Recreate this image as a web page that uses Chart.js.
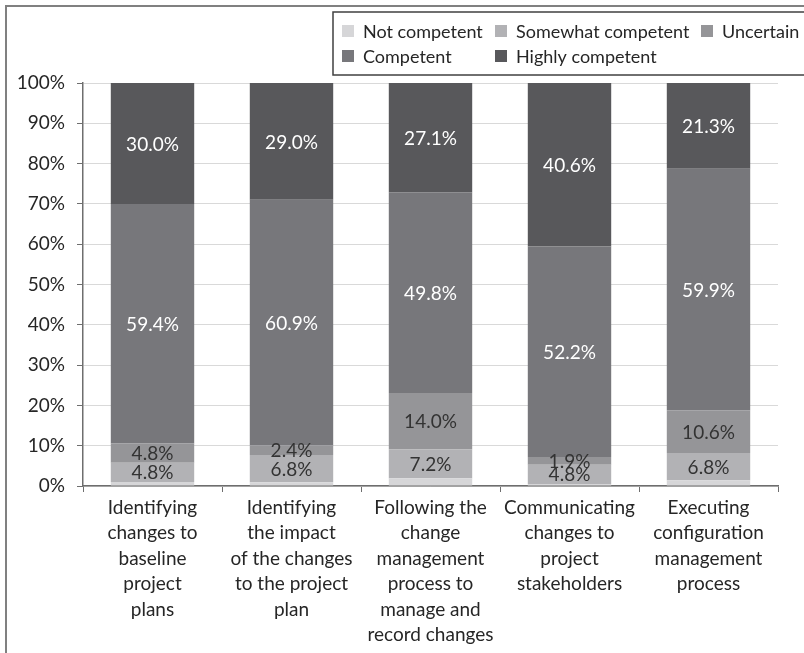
<!DOCTYPE html>
<html>
<head>
<meta charset="utf-8">
<script src="https://cdn.jsdelivr.net/npm/chart.js@4/dist/chart.umd.min.js"></script>
<style>
  html, body { margin: 0; padding: 0; background: #fff; }
  #wrap { width: 804px; height: 653px; position: relative; }
</style>
</head>
<body>
<div id="wrap"><canvas id="myChart" width="804" height="653"></canvas></div>
<script>
// Data
const categories = [
    ['Identifying', 'changes to', 'baseline', 'project', 'plans'],
    ['Identifying', 'the impact', 'of the changes', 'to the project', 'plan'],
    ['Following the', 'change', 'management', 'process to', 'manage and', 'record changes'],
    ['Communicating', 'changes to', 'project', 'stakeholders'],
    ['Executing', 'configuration', 'management', 'process']
];
const seriesNames = ['Not competent', 'Somewhat competent', 'Uncertain', 'Competent', 'Highly competent'];
const notCompetent = [1.0, 0.9, 1.9, 0.5, 1.4];
const somewhatCompetent = [4.8, 6.8, 7.2, 4.8, 6.8];
const uncertain = [4.8, 2.4, 14.0, 1.9, 10.6];
const competent = [59.4, 60.9, 49.8, 52.2, 59.9];
const highlyCompetent = [30.0, 29.0, 27.1, 40.6, 21.3];
const yTicks = [0, 10, 20, 30, 40, 50, 60, 70, 80, 90, 100];

const FONT = 'Lato, "Open Sans", sans-serif';
const colors = ['#d6d6d8', '#b2b2b5', '#959598', '#77777b', '#58585b'];
const labelColors = [null, '#333333', '#333333', '#ffffff', '#ffffff'];
const seriesValues = [notCompetent, somewhatCompetent, uncertain, competent, highlyCompetent];

// Frame around the figure and the boxed legend
const framePlugin = {
    id: 'frame',
    afterDraw(chart) {
        const ctx = chart.ctx;
        ctx.save();
        ctx.strokeStyle = '#808080';
        ctx.lineWidth = 2;
        ctx.beginPath();
        ctx.moveTo(6, 660);
        ctx.lineTo(6, 6);
        ctx.lineTo(810, 6);
        ctx.stroke();

        ctx.strokeStyle = '#404040';
        ctx.lineWidth = 1.5;
        ctx.strokeRect(333, 12, 480, 63);

        // legend entries in two rows
        const spots = [[342, 31], [495, 31], [701, 31], [342, 56], [495, 56]];
        ctx.font = '18px ' + FONT;
        ctx.textBaseline = 'middle';
        ctx.textAlign = 'left';
        chart.data.datasets.forEach((ds, i) => {
            const [x, y] = spots[i];
            ctx.fillStyle = ds.backgroundColor;
            ctx.fillRect(x, y - 6, 12, 12);
            ctx.fillStyle = '#262626';
            ctx.fillText(ds.label, x + 21, y + 1);
        });
        ctx.restore();
    }
};

// Percentage labels in the middle of each segment
const segmentLabels = {
    id: 'segmentLabels',
    afterDatasetsDraw(chart) {
        const ctx = chart.ctx;
        ctx.save();
        ctx.font = '19px ' + FONT;
        ctx.textAlign = 'center';
        ctx.textBaseline = 'middle';
        chart.data.datasets.forEach((ds, i) => {
            if (!labelColors[i]) return;
            const meta = chart.getDatasetMeta(i);
            meta.data.forEach((bar, j) => {
                const midY = (bar.y + bar.base) / 2;
                ctx.fillStyle = labelColors[i];
                ctx.fillText(ds.data[j].toFixed(1) + '%', bar.x, midY + 1);
            });
        });
        ctx.restore();
    }
};

const data = {
    labels: categories,
    datasets: seriesNames.map((name, i) => ({
        label: name,
        data: seriesValues[i],
        backgroundColor: colors[i],
        borderWidth: 0,
        barPercentage: 0.6,
        categoryPercentage: 1.0
    }))
};

const options = {
    responsive: false,
    animation: false,
    layout: {
        padding: { top: 83, right: 26, left: 0, bottom: 0 }
    },
    plugins: {
        legend: { display: false },
        tooltip: { enabled: false }
    },
    scales: {
        x: {
            stacked: true,
            offset: true,
            border: { color: '#6e6e6e', width: 1.5 },
            grid: {
                offset: true,
                drawOnChartArea: false,
                tickLength: 6,
                tickColor: '#6e6e6e'
            },
            ticks: {
                maxRotation: 0,
                autoSkip: false,
                padding: 3,
                color: '#262626',
                font: { family: FONT, size: 19, lineHeight: 1.34 }
            },
            afterFit(scale) { scale.height = 653 - 486; }
        },
        y: {
            stacked: true,
            min: 0,
            max: 100,
            border: { color: '#6e6e6e', width: 1.5 },
            grid: {
                color: '#d9d9d9',
                tickLength: 6,
                tickColor: '#6e6e6e'
            },
            afterBuildTicks(scale) {
                scale.ticks = yTicks.map(v => ({ value: v }));
            },
            ticks: {
                padding: 12,
                color: '#262626',
                font: { family: FONT, size: 19 },
                callback: v => v + '%'
            },
            afterFit(scale) { scale.width = 83; }
        }
    }
};

const ctx = document.getElementById('myChart').getContext('2d');
const myChart = new Chart(ctx, {
    type: 'bar',
    data: data,
    options: options,
    plugins: [segmentLabels, framePlugin]
});
</script>
</body>
</html>
